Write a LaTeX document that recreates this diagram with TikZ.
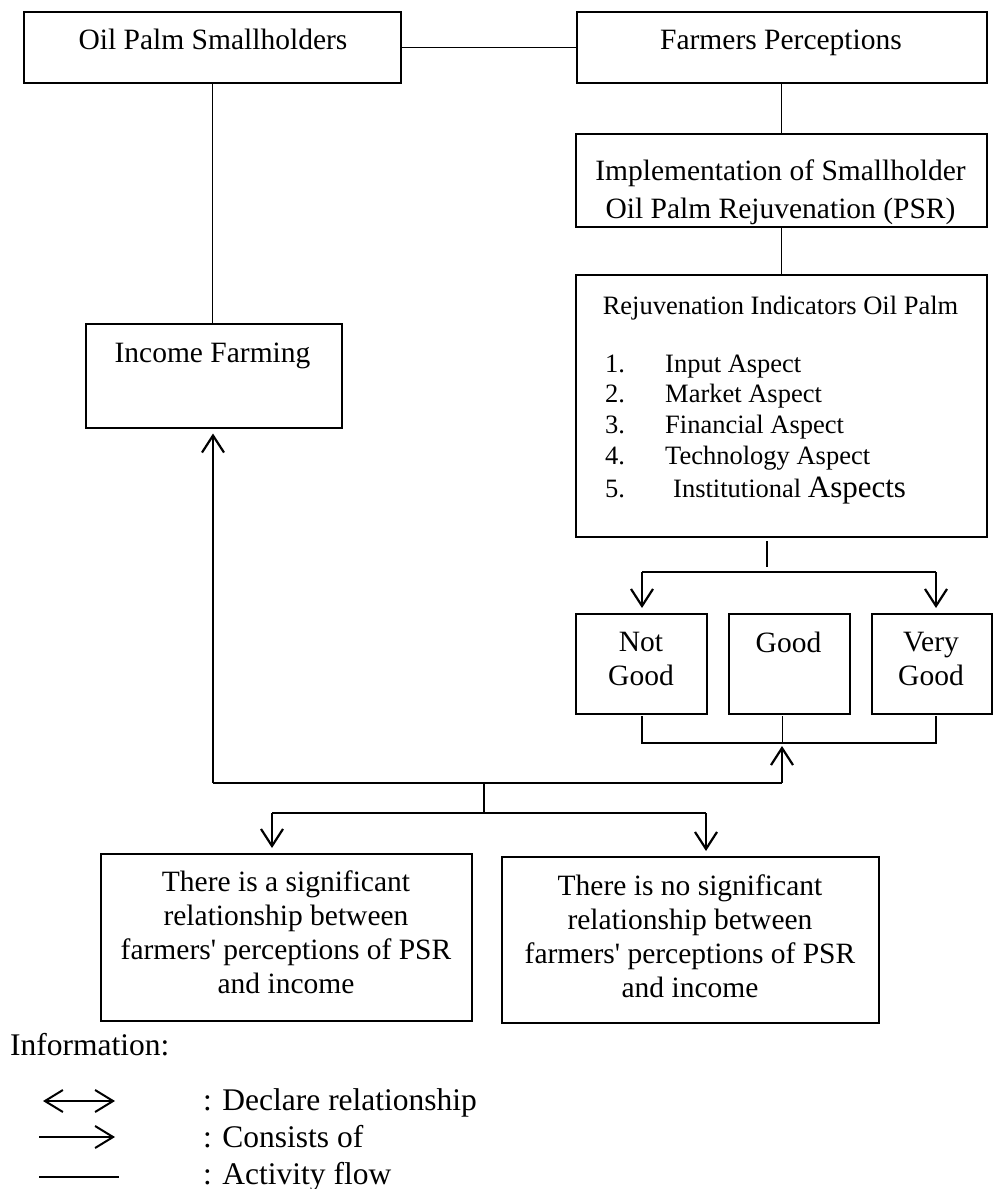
\documentclass[tikz,border=0pt]{standalone}
\usepackage{fontspec}
\setmainfont{Liberation Serif}[Ligatures=TeXOff]
\usetikzlibrary{arrows.meta}
\begin{document}
\begin{tikzpicture}[x=1pt,y=-1pt,
  box/.style={draw, line width=1.5pt, inner sep=0pt, anchor=north west},
  txt/.style={inner sep=0pt, anchor=base, font=\fontsize{29.5}{33.7}\selectfont, align=center},
  small/.style={inner sep=0pt, anchor=base west, font=\fontsize{26.5}{30}\selectfont},
  leg/.style={inner sep=0pt, anchor=base west, font=\fontsize{31.5}{36}\selectfont},
  thinline/.style={line width=1pt},
  midline/.style={line width=1.6pt},
  thickline/.style={line width=2.2pt},
  arr/.style={line width=2.2pt, -{Straight Barb[length=17pt,width=22pt]}, shorten >=5pt},
  legtip/.tip={Straight Barb[length=18pt,width=22pt]},
]
\useasboundingbox (0,0) rectangle (993,1189);

% boxes
\node[box, minimum width=377pt, minimum height=71pt] (A) at (23,11) {};
\node[box, minimum width=410pt, minimum height=71pt] (B) at (576,11) {};
\node[box, minimum width=256pt, minimum height=104pt] (C) at (85,323) {};
\node[box, minimum width=411pt, minimum height=93pt] (D) at (575,133) {};
\node[box, minimum width=411pt, minimum height=262pt] (E) at (575,274) {};
\node[box, minimum width=131pt, minimum height=100pt] (F1) at (575,613) {};
\node[box, minimum width=121pt, minimum height=100pt] (F2) at (728,613) {};
\node[box, minimum width=120pt, minimum height=100pt] (F3) at (871,613) {};
\node[box, minimum width=371pt, minimum height=167pt] (G1) at (100,853) {};
\node[box, minimum width=377pt, minimum height=166pt] (G2) at (501,856) {};

% texts (multi-line nodes are anchored at the baseline of their last line)
\node[txt] (tA) at (213,49) {Oil Palm Smallholders};
\node[txt] (tB) at (781,49) {Farmers Perceptions};
\node[txt] (tC) at (212.5,362) {Income Farming};
\node[txt, font=\fontsize{29.5}{38}\selectfont] (tD) at (780.5,218) {Implementation of Smallholder\\Oil Palm Rejuvenation (PSR)};
\node[txt, font=\fontsize{26.5}{30}\selectfont] (tE) at (780.5,314) {Rejuvenation Indicators Oil Palm};
\node[small] (n1) at (605,372) {1.};
\node[small] (n2) at (605,402) {2.};
\node[small] (n3) at (605,433) {3.};
\node[small] (n4) at (605,464) {4.};
\node[small] (n5) at (605,497) {5.};
\node[small] (i1) at (665,372) {Input Aspect};
\node[small] (i2) at (665,402) {Market Aspect};
\node[small] (i3) at (665,433) {Financial Aspect};
\node[small] (i4) at (665,464) {Technology Aspect};
\node[small] (i5) at (673,497) {Institutional {\fontsize{31}{34}\selectfont Aspects}};
\node[txt] (tF1) at (641,685) {Not\\Good};
\node[txt] (tF2) at (788.5,652) {Good};
\node[txt] (tF3) at (931,685) {Very\\Good};
\node[txt] (tG1) at (286,993) {There is a significant\\relationship between\\farmers' perceptions of PSR\\and income};
\node[txt] (tG2) at (690,997) {There is no significant\\relationship between\\farmers' perceptions of PSR\\and income};

% connectors (activity flow)
\draw[thinline] (A.east) -- (B.west);
\draw[thinline] (A.south) -- (A.south |- C.north);
\draw[thinline] (B.south) -- (B.south |- D.north);
\draw[thinline] (D.south) -- (D.south |- E.north);

\coordinate (e1) at (767,541);
\coordinate (e2) at (767,567);
\coordinate (hl) at (642,572);
\coordinate (hr) at (936,572);
\draw[thickline] (e1) -- (e2);
\draw[midline] (hl) -- (hr);
\draw[arr] (hl) -- (hl |- F1.north);
\draw[arr] (hr) -- (hr |- F3.north);

\coordinate (f1b) at (642,716);
\coordinate (f2b) at (782,716);
\coordinate (f3b) at (936,716);
\coordinate (bl) at (642,743);
\coordinate (bm) at (782,743);
\coordinate (br) at (936,743);
\draw[midline] (f1b) -- (bl) -- (br) -- (f3b);
\draw[thinline] (f2b) -- (bm);

\coordinate (j) at (782,783);
\coordinate (jl) at (213,783);
\draw[arr, shorten >=3pt] (j) -- (bm);
\draw[thickline] (jl) -- (j);
\draw[arr] (jl) -- (jl |- C.south);

\coordinate (k) at (484,783);
\coordinate (k2) at (484,813);
\coordinate (kl) at (272,813);
\coordinate (kr) at (706,813);
\draw[midline] (k) -- (k2);
\draw[midline] (kl) -- (kr);
\draw[arr] (kl) -- (kl |- G1.north);
\draw[arr] (kr) -- (kr |- G2.north);

% legend
\node[leg] (info) at (10,1055) {Information:};
\coordinate (l1a) at (43,1101);
\coordinate (l1b) at (115,1101);
\coordinate (l2a) at (39,1137);
\coordinate (l2b) at (115,1137);
\coordinate (l3a) at (39,1177);
\coordinate (l3b) at (119,1177);
\draw[line width=2pt, legtip-legtip] (l1a) -- (l1b);
\draw[line width=2pt, -legtip] (l2a) -- (l2b);
\draw[line width=2pt] (l3a) -- (l3b);
\node[leg] (d1) at (203,1110) {: Declare relationship};
\node[leg] (d2) at (203,1147) {: Consists of};
\node[leg] (d3) at (203,1184) {: Activity flow};
\end{tikzpicture}
\end{document}
